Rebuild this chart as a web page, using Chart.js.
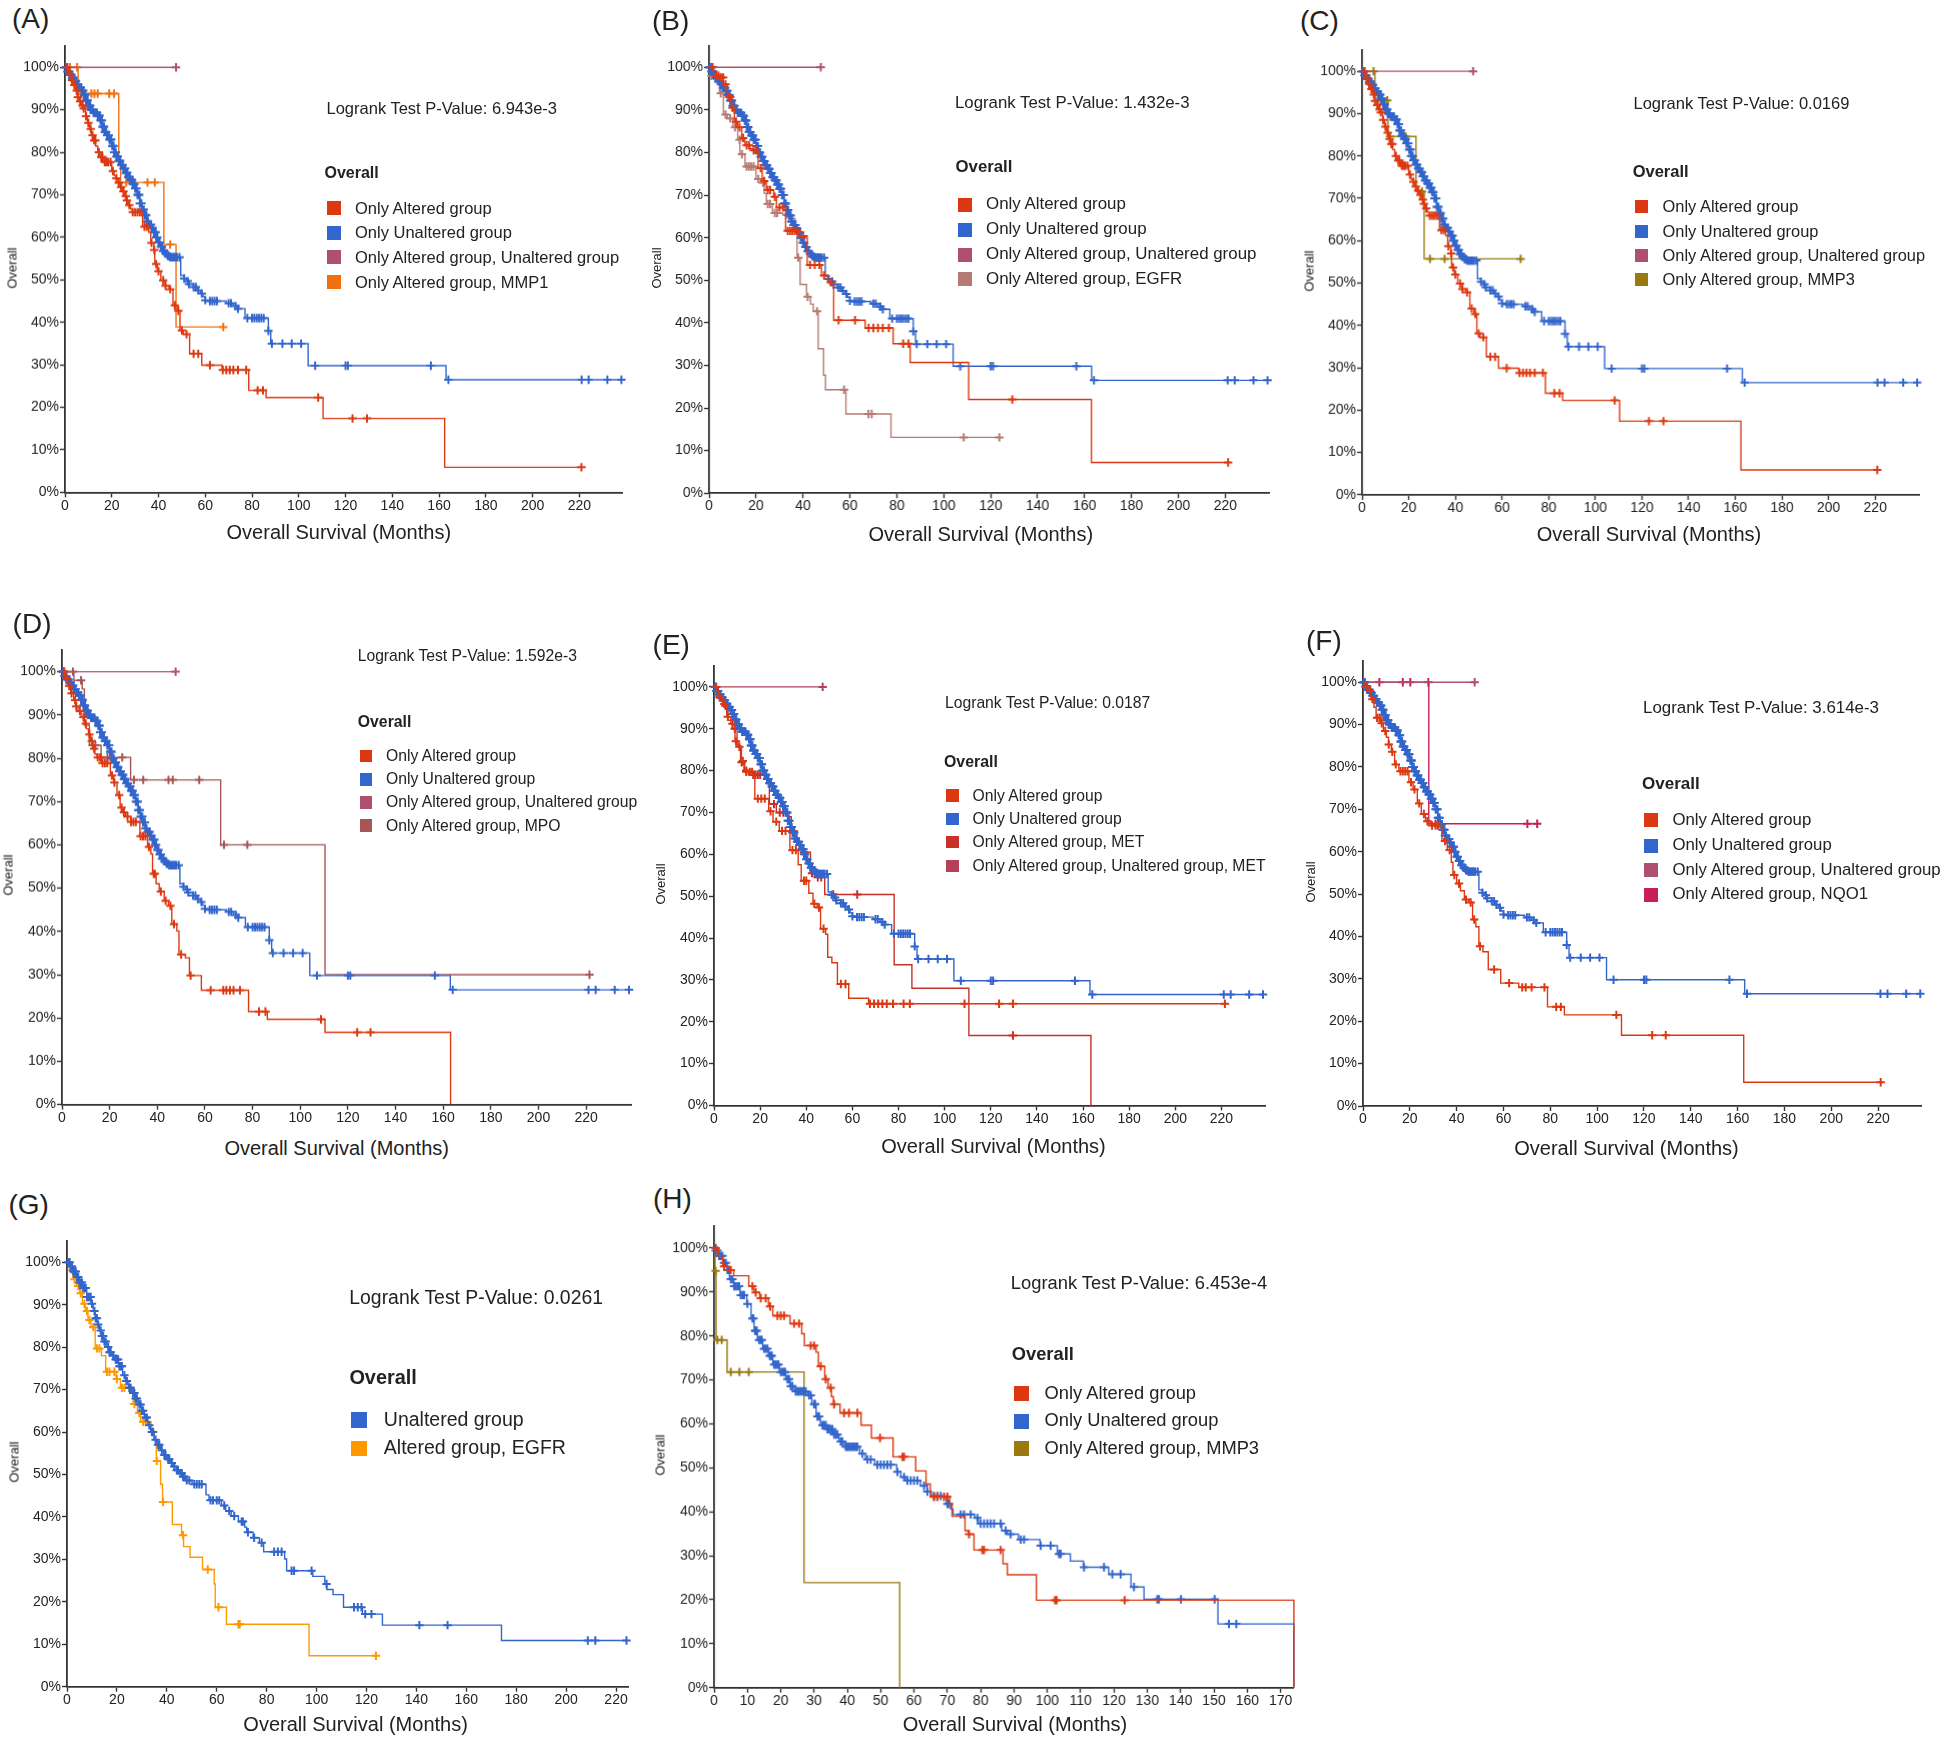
<!DOCTYPE html>
<html>
<head>
<meta charset="utf-8">
<script src="https://cdn.jsdelivr.net/npm/chart.js@4.4.1/dist/chart.umd.min.js"></script>
<style>
  body { margin: 0; width: 1944px; height: 1740px; background: #fff; position: relative; overflow: hidden;
         font-family: "Liberation Sans", Arial, sans-serif; color: #222; }
  .box { position: absolute; }
  .t { position: absolute; white-space: nowrap; line-height: 1; }
  .sq { position: absolute; }
</style>
</head>
<body>
<script>
// ---- tick labels ----
const xTicks220 = [0, 20, 40, 60, 80, 100, 120, 140, 160, 180, 200, 220];
const xTicks170 = [0, 10, 20, 30, 40, 50, 60, 70, 80, 90, 100, 110, 120, 130, 140, 150, 160, 170];
const yTicks = [0, 0.1, 0.2, 0.3, 0.4, 0.5, 0.6, 0.7, 0.8, 0.9, 1.0];
const yTickLabels = ["0%", "10%", "20%", "30%", "40%", "50%", "60%", "70%", "80%", "90%", "100%"];

// ---- KM curves: [months, survival] steps, and censor times ----
const unalteredSteps = [[0,1],[1,0.99],[2,0.982],[3,0.975],[4,0.968],[5,0.96],[6,0.952],[7,0.945],[8,0.935],[9,0.922],[10,0.91],[11,0.9],[12,0.893],[14,0.886],[15,0.875],[16,0.86],[17,0.848],[18,0.84],[19,0.83],[20,0.815],[21,0.8],[22,0.79],[23,0.78],[24,0.77],[25,0.762],[26,0.752],[27,0.742],[28,0.735],[29,0.725],[30,0.715],[31,0.7],[32,0.68],[33,0.665],[34,0.652],[35,0.638],[36,0.63],[37,0.622],[38,0.612],[39,0.6],[40,0.588],[41,0.578],[42,0.568],[43,0.562],[44,0.556],[45,0.553],[49.5,0.51],[51,0.503],[52,0.497],[53,0.49],[55,0.483],[56.5,0.475],[58,0.468],[59,0.46],[60,0.452],[61,0.45],[69,0.445],[72,0.438],[74,0.432],[77,0.41],[87,0.38],[88,0.35],[104,0.298],[163,0.265],[238,0.265]];
const unalteredCens = [0.3,0.5,0.8,1,1.3,1.5,1.8,2.2,2.5,2.8,3,3.4,3.7,4,4.4,4.7,5,5.4,5.7,6,6.3,6.5,6.8,7.2,7.5,7.8,8,8.4,8.7,9,9.3,9.7,10,10.3,10.5,10.8,11.2,11.5,11.8,12.2,12.5,12.8,13,13.4,13.7,14,14.3,14.5,14.8,15.2,15.5,15.8,16,16.4,16.7,17,17.3,17.6,18,18.4,18.7,19,19.3,19.5,19.8,20.2,20.5,20.8,21,21.4,21.7,22,22.3,22.6,23,23.3,23.6,24,24.3,24.7,25,25.4,25.7,26,26.3,26.6,27,27.3,27.7,28,28.4,28.7,29,29.4,29.7,30,30.3,30.6,31,31.4,31.8,32,32.4,32.7,33,33.4,33.7,34,34.4,34.8,35,35.5,36,36.4,36.8,37,37.5,38,38.4,38.8,39,39.5,40,40.5,41,41.5,42,42.5,43,43.5,44,44.5,45,45.5,46,46.5,47,47.5,48,49,51,52.5,53,55,56,57,58.5,60,62,63,64,65,70,71,73,74,78,80,81,82,83,84,85,87,88.5,93,97,101,107,120,121,156.5,164,221,224,232,238];

const alteredA = [[0,1],[1.5,0.985],[2.6,0.97],[3.5,0.958],[4.4,0.945],[5.3,0.93],[6.1,0.92],[7,0.91],[7.9,0.903],[8.8,0.885],[9.6,0.869],[10.5,0.855],[11.3,0.84],[12.2,0.828],[13.1,0.815],[14,0.8],[14.8,0.789],[16.6,0.777],[20,0.756],[21,0.745],[21.8,0.739],[22.7,0.728],[23.6,0.718],[24.5,0.708],[25.3,0.697],[26.2,0.687],[27,0.676],[28,0.667],[28.8,0.659],[33.2,0.625],[35.8,0.612],[36.7,0.587],[38,0.57],[38.4,0.537],[39.5,0.52],[41,0.499],[42.8,0.486],[44.5,0.478],[46.2,0.44],[48,0.427],[49.2,0.381],[50.6,0.372],[53.3,0.326],[58.5,0.299],[67.2,0.288],[78.6,0.24],[86,0.223],[110.4,0.174],[162.4,0.059],[220.9,0.059]];
const alteredACens = [1,2,3,4,5,5.5,6.5,7.5,8,9,10,11,11.8,12.5,13,14.5,15.5,16,17,17.5,18,18.5,19.5,20.5,22,23,24,25,26,26.5,27.5,29,30,31,32,34,35,37,38.2,39,40,42,43,45,47,48.5,50,52,55,57,62,67.5,69,70.5,72,74,77.5,82.4,84.7,108.3,123,129.2,220.9];
const mmp1A = [[0,1],[5.6,0.938],[23,0.78],[23.8,0.729],[42.3,0.583],[47.5,0.389],[67.7,0.389]];
const mmp1ACens = [0.9,2.1,5.2,7,11.3,12.6,14,18.9,21,26.2,28.8,35.3,38.4,45,67.7];
const bothA = [[0,1],[47.5,1]];
const bothACens = [47.5];

const alteredB = [[0,1],[2,0.98],[4.4,0.976],[6.1,0.96],[7.8,0.93],[9.6,0.905],[10.8,0.872],[12.2,0.859],[13.9,0.834],[15.3,0.817],[17.4,0.809],[18.8,0.805],[20.9,0.763],[22.6,0.733],[24.4,0.712],[27.5,0.696],[28.7,0.671],[32.6,0.616],[38.3,0.604],[41.8,0.536],[47.9,0.511],[50.5,0.495],[53.1,0.406],[66.5,0.388],[78.4,0.351],[85.7,0.307],[110.6,0.22],[162.9,0.072],[221.2,0.072]];
const alteredBCens = [1.5,3,4,5,6,7,8.5,9,10,11.5,13,14.5,16,17,19,20,22,23.5,25,26,28,30,31.5,33.5,34.5,35.5,36.5,37.5,40,43,45,47,49,52,55.2,62.2,68,70,72,74,76.6,82.7,85,129.2,221.2];
const egfrB = [[0,1],[0.9,0.98],[2.6,0.964],[4.4,0.939],[6.1,0.889],[7.8,0.88],[10.1,0.859],[12.2,0.83],[13.1,0.796],[15.3,0.767],[20,0.738],[22.6,0.729],[23.5,0.704],[24.4,0.679],[27,0.658],[31.4,0.654],[35.2,0.645],[36.6,0.62],[37.5,0.553],[38.8,0.49],[41.5,0.461],[43.2,0.444],[44.4,0.427],[46.5,0.339],[48.8,0.277],[49.6,0.243],[58.3,0.186],[77.5,0.131],[123.7,0.131]];
const egfrBCens = [1,2,5,7,9,11,13,14,16,17,18,19,21,23,25,26,28,29,33,38,42,46,57.5,67.9,69.3,108.5,123.7];
const bothB = [[0,1],[47.6,1]];
const bothBCens = [47.6];

const mmp3C = [[0,1],[5.5,0.931],[11.1,0.846],[23.1,0.716],[26.6,0.557],[68,0.557]];
const mmp3CCens = [1.1,4.9,6.7,10.8,12,18.2,18.7,25.7,29.1,35.4,44.6,68];
const bothC = [[0,1],[47.6,1]];
const bothCCens = [47.6];

const alteredD = [[0,1],[1.2,0.985],[2.3,0.967],[3.6,0.95],[4.9,0.934],[5.8,0.92],[6.7,0.909],[8,0.895],[9.4,0.88],[10.2,0.868],[11.1,0.855],[12,0.84],[12.9,0.822],[13.8,0.81],[14.7,0.802],[16.4,0.789],[20.3,0.76],[21.7,0.744],[23.1,0.715],[24.4,0.686],[25.5,0.675],[26.7,0.665],[28.8,0.653],[32.7,0.62],[35.9,0.595],[37.3,0.579],[38,0.533],[39.5,0.51],[40.8,0.492],[42.9,0.471],[44.7,0.459],[46.1,0.417],[48.2,0.401],[49.1,0.347],[51.8,0.339],[53.5,0.298],[58.5,0.264],[78.3,0.215],[86.2,0.197],[110.4,0.167],[163.1,0]];
const alteredDCens = [1,2,3,4,5.5,6,7.5,9,10,11.5,12.5,13.5,15,16,17,18,19,21,22,24,25,26,27.5,29,30,31,33,34,35,36.5,38.5,39,41.5,43.5,45.5,47,50,54,62.4,67.7,69,70.5,72,74.7,82.7,85.4,108.7,123.9,129.5];
const mpoD = [[0,1],[5,0.98],[8.5,0.96],[9.4,0.876],[11.5,0.83],[16.4,0.802],[28.8,0.75],[66.6,0.6],[110.4,0.3],[221.4,0.3]];
const mpoDCens = [0.5,4.6,8,12.9,14,16.4,19.1,20.3,25.3,30.2,34.1,44.7,46.5,57.6,68,77.8,221.4];
const bothD = [[0,1],[47.7,1]];
const bothDCens = [47.7];

const alteredE = [[0,1],[1.8,0.976],[3.7,0.959],[5.5,0.929],[7.3,0.912],[9.1,0.87],[10.4,0.857],[11.9,0.823],[13.3,0.797],[17.7,0.733],[23.7,0.703],[25.6,0.678],[28.3,0.656],[32.9,0.61],[36.5,0.575],[37.8,0.537],[41.1,0.507],[42.9,0.482],[44.7,0.473],[46.2,0.422],[48.4,0.409],[49.3,0.354],[51.1,0.341],[53.5,0.29],[58.4,0.256],[67,0.243],[221.5,0.243]];
const alteredECens = [1,2.5,4.5,6,8,9.5,11,12.5,14,15.5,16.5,19,20.5,22,24.5,27,29.5,31,34,35.5,39,40,43.5,45.5,47.5,55,57,67.6,69.4,71.2,73,74.9,77.6,82.2,84.9,108.6,123.6,129.6,221.5];
const metE = [[0,1],[1.5,0.975],[4,0.955],[6,0.92],[8,0.9],[10,0.86],[11.5,0.82],[13,0.8],[15,0.79],[23,0.77],[24,0.72],[27,0.7],[32.5,0.69],[33.5,0.655],[36,0.625],[38,0.605],[41.8,0.555],[43.5,0.545],[48,0.504],[78.1,0.336],[85.8,0.28],[110.5,0.167],[163.4,0]];
const metECens = [2.5,5,9,12,14,17,18,19,20,22,26,28.5,30,34.5,39,42.5,45,46.5,51.7,62.1,129.6];
const bothMetE = [[0,1],[47.1,1]];
const bothMetECens = [47.1];

const alteredF = [[0,1],[1,0.99],[2.1,0.979],[3.4,0.96],[4.7,0.941],[5.6,0.916],[7.4,0.903],[8.7,0.885],[10,0.87],[10.9,0.853],[12.1,0.836],[13.5,0.806],[15.3,0.79],[19.6,0.764],[21.4,0.747],[23.2,0.714],[24.9,0.689],[26.7,0.672],[28.9,0.662],[33.7,0.625],[36,0.604],[37.7,0.575],[38.4,0.545],[40,0.525],[41.6,0.508],[43.3,0.487],[45.1,0.48],[46.8,0.44],[48.2,0.423],[49.5,0.377],[51.2,0.364],[53.5,0.322],[58.8,0.29],[66.5,0.28],[78.8,0.234],[86,0.215],[110.4,0.167],[162.6,0.056],[221.1,0.056]];
const alteredFCens = [1.5,3,4,6,7,8,9.5,11,12.5,14,16,17,18,19,20.5,22,24,26,27.5,29.5,31,32,35,37,39,41,44,46,47.5,50,56,62.4,68,69.5,72,77.5,82.5,84.5,108.2,123.5,129.3,221.1];
const nqo1F = [[0,1],[28.1,0.666],[74.4,0.666]];
const nqo1FCens = [7,17,20.2,27.9,31,70.2,74.4];
const bothF = [[0,1],[47.7,1]];
const bothFCens = [47.7];

const unalteredG = [[0,1],[1.2,0.99],[2.5,0.978],[3.7,0.965],[5,0.952],[6.2,0.939],[7.9,0.918],[9.6,0.902],[10.5,0.885],[11.3,0.868],[12.2,0.853],[13,0.839],[14,0.826],[14.7,0.813],[16,0.8],[16.9,0.788],[18,0.78],[18.9,0.771],[20.6,0.755],[22.3,0.734],[23.5,0.72],[24.8,0.704],[26,0.692],[27.3,0.679],[28.5,0.665],[29.9,0.65],[31,0.634],[32.4,0.616],[33.5,0.6],[34.9,0.582],[36,0.57],[37.5,0.557],[38.8,0.546],[40,0.536],[41.5,0.527],[42.5,0.519],[43.8,0.51],[45,0.503],[46.4,0.495],[47.6,0.486],[50.1,0.477],[55.7,0.452],[56.9,0.439],[61.9,0.427],[63.6,0.414],[65.8,0.402],[68.7,0.389],[71.2,0.376],[72,0.364],[74.6,0.351],[77.1,0.339],[78.8,0.318],[87.2,0.301],[88,0.273],[98.5,0.26],[103.3,0.242],[104.1,0.229],[106.6,0.217],[110.8,0.187],[118.4,0.171],[126.4,0.145],[174.1,0.109],[224.2,0.109]];
const unalteredGCens = [0.5,1,1.5,2,2.5,3,3.5,4,4.5,5,5.5,6,6.5,7,7.5,8,8.5,9,9.5,10,11,11.5,12,12.5,13.5,14,14.5,15,15.5,16.5,17,17.5,18.5,19.5,20,20.5,21,21.5,22,23,23.8,24,25,25.5,26.5,27,27.5,28,29,29.5,30,30.5,31.5,32,33,34,34.5,35.5,36.5,37,38,39,39.5,40.5,41,42,43,44,44.5,45.5,46,46.5,47,48,49,51,52,53,54,57.5,58.5,60,61,63,65,67,70,70.5,72.5,75,78,83,84.5,86,90,91,98,104,115,116.5,118,119.5,122,141.2,152.5,208.7,211.7,224.2];
const egfrG = [[0,1],[1.2,0.982],[2.4,0.96],[3.7,0.944],[5.1,0.927],[6.2,0.902],[7.3,0.885],[8.4,0.864],[9.6,0.847],[11.3,0.797],[13.8,0.78],[15.5,0.742],[19.7,0.725],[21.4,0.704],[26.5,0.666],[28.2,0.645],[29.5,0.624],[33.7,0.603],[34.9,0.582],[35.8,0.532],[37.5,0.477],[38.3,0.435],[42.2,0.382],[45.9,0.357],[46.7,0.33],[49.3,0.305],[54.3,0.276],[59,0.242],[59.4,0.187],[63.9,0.147],[97,0.073],[123.8,0.073]];
const egfrGCens = [1,2,3,4.5,5.5,7,8,9,10.5,12,13,16,17,19,20,22,23,25,27,29,30.5,31.5,32,36,38.5,46.5,56.4,60.7,68.7,69.2,123.8];

const alteredH = [[0,1],[1.3,0.982],[2.6,0.958],[4.6,0.95],[5.9,0.937],[10.4,0.913],[12,0.899],[13.7,0.886],[16.3,0.867],[17.6,0.846],[22.8,0.828],[26.3,0.805],[27.1,0.778],[30.6,0.763],[31.3,0.731],[33.2,0.702],[34.2,0.682],[35.2,0.662],[35.8,0.645],[37.8,0.625],[44.1,0.597],[47.2,0.568],[53.7,0.525],[60.5,0.493],[63.6,0.463],[64.9,0.434],[70.7,0.418],[71.4,0.39],[75.3,0.357],[76.3,0.349],[78,0.313],[86.7,0.282],[88,0.257],[96.7,0.199],[174,0.199],[174,0]];
const alteredHCens = [0.5,3,5,11.5,12.5,14,15.5,16.8,19,20,21,24,25.5,29,30,32,33.5,35,36,39,40.5,43,49.8,56.5,57,66,67,69,70,76.5,80.5,81,86,102.3,102.8,123.2];
const unalteredH = [[0,1],[0.4,0.994],[1.3,0.982],[2.6,0.966],[3.9,0.95],[4.6,0.929],[5.9,0.913],[7.8,0.893],[9.8,0.873],[11.1,0.84],[12,0.812],[13,0.791],[14.6,0.771],[16.3,0.755],[17.6,0.735],[19.6,0.718],[21.5,0.702],[22.8,0.686],[24.1,0.674],[28,0.665],[29.3,0.645],[30.6,0.617],[31.9,0.597],[33.9,0.588],[35.8,0.576],[37.5,0.56],[39.1,0.548],[43.7,0.532],[45.4,0.519],[48.2,0.507],[54.8,0.491],[56,0.479],[57.4,0.471],[61.9,0.459],[63.9,0.446],[65.2,0.436],[69.7,0.418],[71,0.406],[71.7,0.394],[78.2,0.386],[79.3,0.373],[86.3,0.357],[88,0.349],[91.3,0.337],[97.8,0.323],[103,0.304],[106.9,0.288],[110.8,0.274],[118.4,0.258],[125.1,0.229],[129,0.201],[151.2,0.145],[174,0.145],[174,0]];
const unalteredHCens = [0.5,1,1.5,2,2.5,3,3.5,4,4.3,5,5.5,6,6.5,7,7.5,8,8.5,9,10,11.5,11.8,12.3,12.5,12.8,13.5,14,14.3,15,15.5,16,16.7,17,17.3,18,18.5,19,19.3,20,20.5,21,21.3,22,22.5,23,23.5,24.5,25,25.5,26,26.5,27,27.5,28.5,29,30,30.3,31,31.5,32.5,33,33.5,34,34.5,35,35.5,36,36.5,37,38,38.5,39.5,40,40.5,41,41.5,42,42.5,43,44.5,46,47,49,50,51,52,53,55,57,58,59,60,61,63,64,66,67,68,70,70.5,74,75,77,79,80,81,82,83,84,86,87.5,89,92,93,98,101,103.5,104,111,117,119.5,122,126,133,133.5,140.1,150.2,154.5,156.7];
const mmp3H = [[0,1],[0.3,0.948],[0.6,0.791],[3.9,0.718],[27,0.239],[55.7,0.239],[55.7,0]];
const mmp3HCens = [0.45,1,2.3,5,7.6,10.4];

// ---- colours ----
const RED = "#dc3912", BLUE = "#3366cc", MAUVE = "#b0506f", MMP1 = "#f0700f", OLIVE = "#9a7a0e",
      EGFRB = "#b57b72", MPO = "#a65656", MET = "#c8302a", METBOTH = "#b5405a", NQO1 = "#c81e5a", ORANGE = "#ff9900";

const panels = [
  { label: "(A)", lab: [12, 18], box: [65.3, 46.4, 622.4, 491.8], xMax: 238.3, xTicks: xTicks220,
    pval: ["Logrank Test P-Value: 6.943e-3", 326.5, 109, 16.5],
    leg: { x: 326.5, ty: 173, tfs: 16, sq: 14, ys: [208.2, 232.9, 257.1, 282.1], tx: 355, fs: 16.5 },
    xt: [338.8, 532], yt: [12.2, 268],
    series: [[alteredA, alteredACens, RED, "Only Altered group"], [unalteredSteps, unalteredCens, BLUE, "Only Unaltered group"],
             [bothA, bothACens, MAUVE, "Only Altered group, Unaltered group"], [mmp1A, mmp1ACens, MMP1, "Only Altered group, MMP1"]] },
  { label: "(B)", lab: [652, 19.6], box: [709.4, 45.7, 1268.6, 492.9], xMax: 238.7, xTicks: xTicks220,
    pval: ["Logrank Test P-Value: 1.432e-3", 955, 103.6, 16.8],
    leg: { x: 957.5, ty: 168, tfs: 16.8, sq: 14, ys: [204.6, 229.6, 254.6, 279.3], tx: 986, fs: 16.9 },
    xt: [980.8, 534], yt: [655.5, 268],
    series: [[alteredB, alteredBCens, RED, "Only Altered group"], [unalteredSteps, unalteredCens, BLUE, "Only Unaltered group"],
             [bothB, bothBCens, MAUVE, "Only Altered group, Unaltered group"], [egfrB, egfrBCens, EGFRB, "Only Altered group, EGFR"]] },
  { label: "(C)", lab: [1300, 20], box: [1362.4, 50, 1918.9, 493.9], xMax: 239, xTicks: xTicks220,
    pval: ["Logrank Test P-Value: 0.0169", 1633.5, 103.6, 16.5],
    leg: { x: 1634.7, ty: 171.4, tfs: 16.5, sq: 13.5, ys: [206.4, 231.4, 255.7, 279.6], tx: 1662.6, fs: 16.4 },
    xt: [1649, 534], yt: [1309, 271],
    series: [[alteredA, alteredACens, RED, "Only Altered group"], [unalteredSteps, unalteredCens, BLUE, "Only Unaltered group"],
             [bothC, bothCCens, MAUVE, "Only Altered group, Unaltered group"], [mmp3C, mmp3CCens, OLIVE, "Only Altered group, MMP3"]] },
  { label: "(D)", lab: [12.6, 623], box: [61.9, 650, 631.3, 1103.6], xMax: 239, xTicks: xTicks220,
    pval: ["Logrank Test P-Value: 1.592e-3", 357.7, 656, 15.7],
    leg: { x: 359.8, ty: 722.5, tfs: 15.8, sq: 12.6, ys: [756, 779.3, 802.5, 825.7], tx: 386, fs: 15.7 },
    xt: [336.7, 1148], yt: [7.6, 875],
    series: [[alteredD, alteredDCens, RED, "Only Altered group"], [unalteredSteps, unalteredCens, BLUE, "Only Unaltered group"],
             [bothD, bothDCens, MAUVE, "Only Altered group, Unaltered group"], [mpoD, mpoDCens, MPO, "Only Altered group, MPO"]] },
  { label: "(E)", lab: [652.6, 643.5], box: [713.7, 666, 1265, 1105.4], xMax: 239, xTicks: xTicks220,
    pval: ["Logrank Test P-Value: 0.0187", 945, 703.6, 15.7],
    leg: { x: 946, ty: 762.5, tfs: 15.9, sq: 12.6, ys: [795.7, 818.9, 842.1, 866], tx: 972.5, fs: 15.7 },
    xt: [993.5, 1146.4], yt: [660, 884],
    series: [[alteredE, alteredECens, RED, "Only Altered group"], [unalteredSteps, unalteredCens, BLUE, "Only Unaltered group"],
             [metE, metECens, MET, "Only Altered group, MET"], [bothMetE, bothMetECens, METBOTH, "Only Altered group, Unaltered group, MET"]] },
  { label: "(F)", lab: [1306, 640], box: [1362.8, 661.4, 1921, 1106.4], xMax: 238.4, xTicks: xTicks220,
    pval: ["Logrank Test P-Value: 3.614e-3", 1643, 709, 16.9],
    leg: { x: 1644, ty: 784, tfs: 17, sq: 14, ys: [820.4, 845.7, 870.4, 895], tx: 1672.5, fs: 16.75 },
    xt: [1626.5, 1148], yt: [1310, 882],
    series: [[alteredF, alteredFCens, RED, "Only Altered group"], [unalteredSteps, unalteredCens, BLUE, "Only Unaltered group"],
             [bothF, bothFCens, MAUVE, "Only Altered group, Unaltered group"], [nqo1F, nqo1FCens, NQO1, "Only Altered group, NQO1"]] },
  { label: "(G)", lab: [8.4, 1204], box: [66.5, 1240.7, 628, 1686.4], xMax: 225, xTicks: xTicks220,
    pval: ["Logrank Test P-Value: 0.0261", 349.3, 1297.9, 19.4],
    leg: { x: 351.4, ty: 1378, tfs: 19.9, sq: 15.6, ys: [1420, 1448.6], tx: 383.8, fs: 19.5 },
    xt: [355.6, 1724.6], yt: [13.5, 1462],
    series: [[unalteredG, unalteredGCens, BLUE, "Unaltered group"], [egfrG, egfrGCens, ORANGE, "Altered group, EGFR"]] },
  { label: "(H)", lab: [653, 1198], box: [713.7, 1226.4, 1292.6, 1687.1], xMax: 174, xTicks: xTicks170,
    pval: ["Logrank Test P-Value: 6.453e-4", 1010.8, 1283.6, 18.35],
    leg: { x: 1013.8, ty: 1355, tfs: 18.3, sq: 15, ys: [1393.6, 1421, 1448.6], tx: 1044.6, fs: 18.3 },
    xt: [1015, 1724.6], yt: [659.5, 1455],
    series: [[alteredH, alteredHCens, RED, "Only Altered group"], [unalteredH, unalteredHCens, BLUE, "Only Unaltered group"],
             [mmp3H, mmp3HCens, OLIVE, "Only Altered group, MMP3"]] }
];

function survAt(steps, t) {
  let s = steps[0][1];
  for (const [x, y] of steps) { if (x <= t) s = y; else break; }
  return s;
}

function addText(txt, x, y, fs, extra) {
  const d = document.createElement("div");
  d.className = "t";
  d.textContent = txt;
  d.style.left = x + "px";
  d.style.top = (y - 0.52 * fs) + "px";
  d.style.fontSize = fs + "px";
  if (extra) Object.assign(d.style, extra);
  document.body.appendChild(d);
  return d;
}

const PADL = 70, PADT = 12, PADR = 14, PADB = 32;

panels.forEach(p => {
  const [x0, y0, x1, y1] = p.box;
  const wrap = document.createElement("div");
  wrap.className = "box";
  wrap.style.left = (x0 - PADL) + "px";
  wrap.style.top = (y0 - PADT) + "px";
  wrap.style.width = (x1 - x0 + PADL + PADR) + "px";
  wrap.style.height = (y1 - y0 + PADT + PADB) + "px";
  const cv = document.createElement("canvas");
  wrap.appendChild(cv);
  document.body.appendChild(wrap);

  const datasets = [];
  p.series.forEach(([steps, cens, col]) => {
    datasets.push({ data: steps.map(([x, y]) => ({ x, y })), showLine: true, stepped: true,
                    borderColor: col, borderWidth: 1.4, pointRadius: 0, clip: 6 });
    datasets.push({ data: cens.map(t => ({ x: t, y: survAt(steps, t) })), showLine: false,
                    pointStyle: "cross", pointRadius: 4.2, borderColor: col, borderWidth: 2, clip: 8 });
  });

  const axisCommon = {
    grid: { display: true, drawOnChartArea: false, drawTicks: true, tickLength: 5, tickColor: "#333", tickWidth: 1.4 },
    border: { display: true, color: "#333", width: 1.8 },
  };

  new Chart(cv, {
    type: "scatter",
    data: { datasets },
    options: {
      responsive: true, maintainAspectRatio: false, animation: false,
      layout: { padding: { top: PADT, right: PADR, left: 0, bottom: 0 } },
      plugins: { legend: { display: false }, tooltip: { enabled: false } },
      scales: {
        x: Object.assign({}, axisCommon, {
          type: "linear", min: 0, max: p.xMax,
          afterFit: s => { s.height = PADB; },
          afterBuildTicks: s => { s.ticks = p.xTicks.map(v => ({ value: v })); },
          ticks: { autoSkip: false, maxRotation: 0, padding: 0, color: "#222",
                   font: { family: "Liberation Sans", size: 14 }, callback: v => String(v) }
        }),
        y: Object.assign({}, axisCommon, {
          type: "linear", min: 0, max: 1.05,
          afterFit: s => { s.width = PADL; },
          afterBuildTicks: s => { s.ticks = yTicks.map(v => ({ value: v })); },
          ticks: { autoSkip: false, padding: 1, color: "#222",
                   font: { family: "Liberation Sans", size: 14 },
                   callback: v => yTickLabels[Math.round(v * 10)] }
        })
      }
    }
  });

  // panel label, p-value, legend, axis titles
  addText(p.label, p.lab[0], p.lab[1] + 0.07 * 28, 28);
  addText(p.pval[0], p.pval[1], p.pval[2], p.pval[3]);
  const L = p.leg;
  addText("Overall", L.x - 2, L.ty, L.tfs, { fontWeight: "bold" });
  p.series.forEach((s, i) => {
    const sq = document.createElement("div");
    sq.className = "sq";
    sq.style.left = L.x + "px";
    sq.style.top = (L.ys[i] - L.sq / 2) + "px";
    sq.style.width = L.sq + "px";
    sq.style.height = L.sq + "px";
    sq.style.background = s[2];
    document.body.appendChild(sq);
    addText(s[3], L.tx, L.ys[i], L.fs);
  });
  addText("Overall Survival (Months)", p.xt[0], p.xt[1], 20, { transform: "translateX(-50%)" });
  const yt = document.createElement("div");
  yt.className = "t";
  yt.textContent = "Overall";
  yt.style.fontSize = "13px";
  yt.style.left = p.yt[0] + "px";
  yt.style.top = p.yt[1] + "px";
  yt.style.transform = "translate(-50%, -50%) rotate(-90deg)";
  document.body.appendChild(yt);
});
</script>
</body>
</html>
